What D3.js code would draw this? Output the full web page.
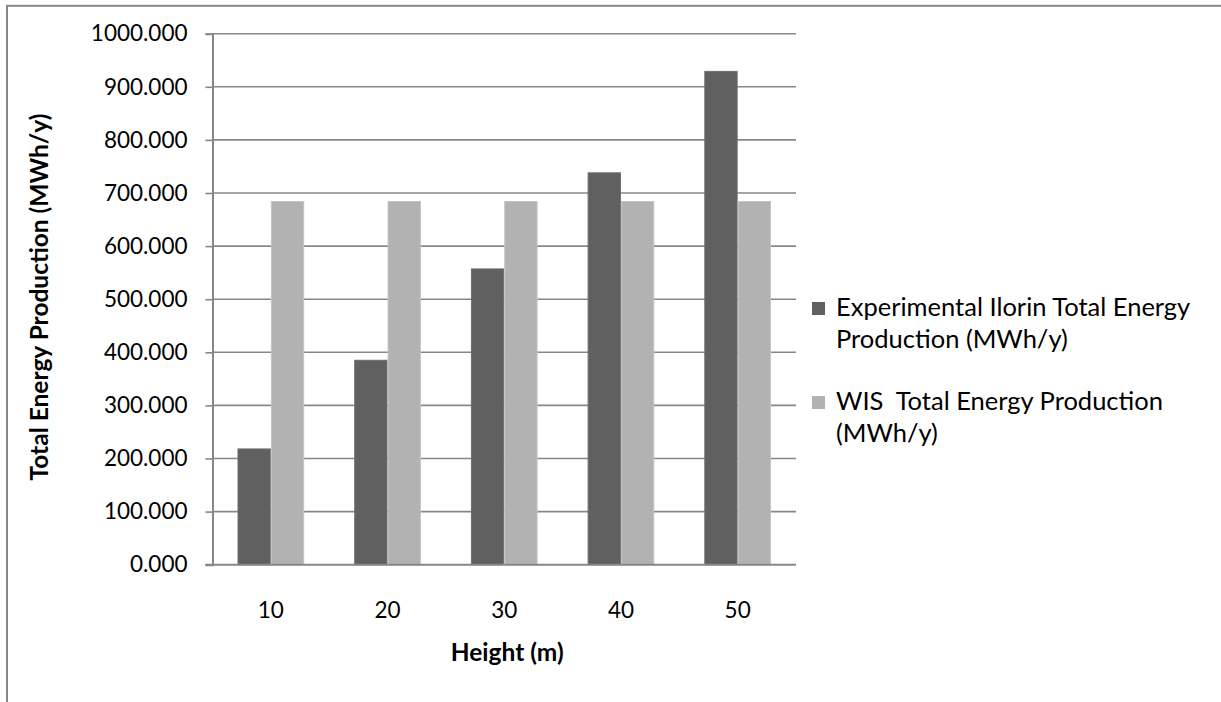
<!DOCTYPE html>
<html>
<head>
<meta charset="utf-8">
<script src="https://cdn.jsdelivr.net/npm/d3@7"></script>
<style>
  html, body { margin: 0; padding: 0; background: #fff; }
  svg { display: block; font-family: Lato, "Open Sans", sans-serif; }
</style>
</head>
<body>
<svg id="chart" width="1221" height="702"></svg>
<script>
// Heights (m) and annual energy production for each series
const categories = ["10", "20", "30", "40", "50"];
const experimentalIlorin = [218, 385, 557, 738, 929];
const wisValues = [684, 684, 684, 684, 684];
const yTickValues = [0, 100, 200, 300, 400, 500, 600, 700, 800, 900, 1000];
const seriesNames = [
  "Experimental Ilorin Total Energy Production (MWh/y)",
  "WIS  Total Energy Production (MWh/y)"
];
const legendLines = [
  ["Experimental Ilorin Total Energy", "Production (MWh/y)"],
  ["WIS  Total Energy Production", "(MWh/y)"]
];
const seriesKeys = ["exp", "wis"];
const seriesColors = ["#606060", "#b2b2b2"];
const seriesEdges = ["#6e6e6e", "#c4c4c4"];

const rows = categories.map((c, i) => ({ cat: c, exp: experimentalIlorin[i], wis: wisValues[i] }));

const svg = d3.select("#chart");
const gridColor = "#878787";
const font = "Lato, 'Open Sans', sans-serif";

// Outer chart border
svg.append("rect")
  .attr("x", 7).attr("y", 5.8)
  .attr("width", 1400).attr("height", 900)
  .attr("fill", "none").attr("stroke", gridColor).attr("stroke-width", 2);

const plot = { left: 212.5, right: 796, top: 33.7, bottom: 564.7 };

const x = d3.scaleBand()
  .domain(categories)
  .range([plot.left, plot.right])
  .paddingInner(1.5 / 3.5)
  .paddingOuter(0.75 / 3.5);

const xs = d3.scaleBand().domain(seriesKeys).range([0, x.bandwidth()]);

const y = d3.scaleLinear().domain([0, 1000]).range([plot.bottom, plot.top]);

// Horizontal gridlines
svg.append("g")
  .selectAll("line")
  .data(yTickValues.filter(v => v > 0))
  .join("line")
  .attr("x1", plot.left).attr("x2", plot.right)
  .attr("y1", d => y(d)).attr("y2", d => y(d))
  .attr("stroke", gridColor).attr("stroke-width", 1.6);

// Bars
const groups = svg.append("g")
  .selectAll("g")
  .data(rows)
  .join("g")
  .attr("transform", d => `translate(${x(d.cat)},0)`);

groups.selectAll("rect")
  .data(d => seriesKeys.map((k, i) => ({ key: k, i, value: d[k] })))
  .join("rect")
  .attr("x", d => xs(d.key) + 0.5)
  .attr("width", xs.bandwidth() - 1)
  .attr("y", d => y(d.value))
  .attr("height", d => y(0) - y(d.value))
  .attr("fill", d => seriesColors[d.i])
  .attr("stroke", d => seriesEdges[d.i])
  .attr("stroke-width", 1);

// Y axis
const yAxis = svg.append("g")
  .attr("transform", `translate(${plot.left},0)`)
  .call(d3.axisLeft(y)
    .tickValues(yTickValues)
    .tickSize(7)
    .tickPadding(18)
    .tickFormat(d3.format(".3f")));
yAxis.select(".domain").attr("stroke", gridColor).attr("stroke-width", 2);
yAxis.selectAll(".tick line").attr("stroke", gridColor).attr("stroke-width", 1.6);
yAxis.selectAll(".tick text")
  .attr("fill", "#000")
  .style("font-size", "22.5px")
  .style("font-family", font);

// X axis
const xAxis = svg.append("g")
  .attr("transform", `translate(0,${plot.bottom})`)
  .call(d3.axisBottom(x).tickSize(0).tickPadding(37));
xAxis.select(".domain").remove();
xAxis.selectAll(".tick text")
  .attr("fill", "#000")
  .style("font-size", "22.5px")
  .style("font-family", font);
svg.append("line")
  .attr("x1", plot.left - 7).attr("x2", plot.right)
  .attr("y1", plot.bottom).attr("y2", plot.bottom)
  .attr("stroke", gridColor).attr("stroke-width", 2);

// Axis titles
svg.append("text")
  .attr("x", (plot.left + plot.right) / 2 + 3)
  .attr("y", 661)
  .attr("text-anchor", "middle")
  .style("font-size", "24.5px").style("font-weight", "bold")
  .text("Height (m)");

svg.append("text")
  .attr("transform", `translate(48,297) rotate(-90)`)
  .attr("text-anchor", "middle")
  .style("font-size", "24.5px").style("font-weight", "bold")
  .text("Total Energy Production (MWh/y)");

// Legend
const legend = svg.append("g").attr("transform", "translate(812,0)");
const legendBaseline = [316, 410];
const lineStep = 31.5;
seriesNames.forEach((name, i) => {
  const g = legend.append("g").attr("aria-label", name);
  g.append("rect")
    .attr("x", 0).attr("y", legendBaseline[i] - 14)
    .attr("width", 13).attr("height", 13)
    .attr("fill", seriesColors[i]);
  legendLines[i].forEach((line, j) => {
    g.append("text")
      .attr("x", 24)
      .attr("y", legendBaseline[i] + j * lineStep)
      .style("font-size", "25.5px")
      .attr("xml:space", "preserve")
      .text(line);
  });
});
</script>
</body>
</html>
